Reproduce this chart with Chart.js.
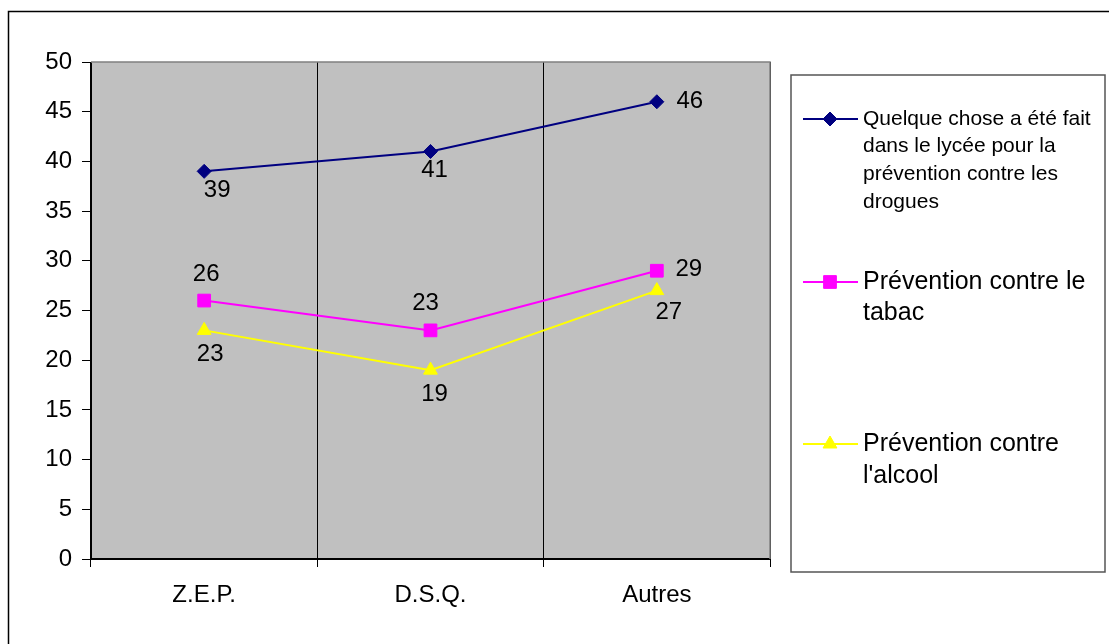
<!DOCTYPE html>
<html>
<head>
<meta charset="utf-8">
<script src="https://cdn.jsdelivr.net/npm/chart.js@4/dist/chart.umd.min.js"></script>
<style>
  html, body { margin: 0; padding: 0; background: #fff; }
  canvas { display: block; }
</style>
</head>
<body>
<canvas id="chart" width="1109" height="644"></canvas>
<script>
// ---- data ----
const categories = ['Z.E.P.', 'D.S.Q.', 'Autres'];
const preventionDrogues = [39, 41, 46];
const preventionTabac = [26, 23, 29];
const preventionAlcool = [23, 19, 27];
const yTickValues = [0, 5, 10, 15, 20, 25, 30, 35, 40, 45, 50];
const legendLines = [
  ['Quelque chose a été fait', 'dans le lycée pour la', 'prévention contre les', 'drogues'],
  ['Prévention contre le', 'tabac'],
  ['Prévention contre', "l'alcool"]
];

// ---- styles ----
const FONT = "'Liberation Sans', Arial, Helvetica, sans-serif";
const seriesStyle = [
  { color: '#000080', pointStyle: 'rectRot', radius: 7 },
  { color: '#FF00FF', pointStyle: 'rect', radius: 9 },
  { color: '#FFFF00', pointStyle: 'triangle', radius: 8 }
];
// value label offsets from each point (dx, dy in px)
const labelOffsets = [
  [[13, 19], [4, 19], [33, 0]],
  [[2, -26], [-5, -27], [32, -1]],
  [[6, 24], [4, 24], [12, 22]]
];
// legend layout
const legendBox = { x: 791, y: 75, w: 314, h: 497 };
const legendRows = [
  { y: 119, font: 21, lineH: 27.7 },
  { y: 282, font: 25, lineH: 31 },
  { y: 444, font: 25, lineH: 32 }
];

const seriesValues = [preventionDrogues, preventionTabac, preventionAlcool];

const datasets = seriesValues.map((vals, i) => ({
  label: legendLines[i].join(' '),
  data: vals,
  borderColor: seriesStyle[i].color,
  backgroundColor: seriesStyle[i].color,
  borderWidth: 2,
  pointStyle: seriesStyle[i].pointStyle,
  pointRadius: seriesStyle[i].radius,
  pointHoverRadius: seriesStyle[i].radius,
  pointBorderWidth: 1,
  pointBorderColor: seriesStyle[i].color,
  pointBackgroundColor: seriesStyle[i].color,
  tension: 0,
  fill: false
}));

const framePlugin = {
  id: 'frame',
  beforeDraw(chart) {
    const { ctx, chartArea: a } = chart;
    ctx.save();
    ctx.fillStyle = '#C0C0C0';
    ctx.fillRect(a.left, a.top, a.right - a.left, a.bottom - a.top);
    ctx.restore();
  },
  beforeDatasetsDraw(chart) {
    const { ctx, chartArea: a } = chart;
    ctx.save();
    ctx.strokeStyle = '#808080';
    ctx.lineWidth = 1.5;
    ctx.beginPath();
    ctx.moveTo(a.left, a.top);
    ctx.lineTo(a.right, a.top);
    ctx.lineTo(a.right, a.bottom);
    ctx.stroke();
    ctx.restore();
  },
  afterDraw(chart) {
    const { ctx } = chart;
    ctx.save();
    // outer frame
    ctx.strokeStyle = '#000';
    ctx.lineWidth = 1.5;
    ctx.strokeRect(8.5, 11.5, 1300, 800);
    ctx.restore();
  }
};

const valueLabelPlugin = {
  id: 'valueLabels',
  afterDatasetsDraw(chart) {
    const { ctx } = chart;
    ctx.save();
    ctx.font = '24px ' + FONT;
    ctx.fillStyle = '#000';
    ctx.textAlign = 'center';
    ctx.textBaseline = 'middle';
    chart.data.datasets.forEach((ds, di) => {
      const meta = chart.getDatasetMeta(di);
      meta.data.forEach((pt, j) => {
        const off = labelOffsets[di][j];
        ctx.fillText(String(ds.data[j]), pt.x + off[0], pt.y + off[1]);
      });
    });
    ctx.restore();
  }
};

const legendPlugin = {
  id: 'boxLegend',
  afterDraw(chart) {
    const { ctx } = chart;
    ctx.save();
    ctx.strokeStyle = '#555';
    ctx.lineWidth = 1.5;
    ctx.strokeRect(legendBox.x, legendBox.y, legendBox.w, legendBox.h);
    chart.data.datasets.forEach((ds, i) => {
      const row = legendRows[i];
      const st = seriesStyle[i];
      ctx.strokeStyle = st.color;
      ctx.lineWidth = 2;
      ctx.beginPath();
      ctx.moveTo(803, row.y);
      ctx.lineTo(858, row.y);
      ctx.stroke();
      ctx.fillStyle = st.color;
      ctx.lineWidth = 1;
      Chart.helpers.drawPoint(ctx, {
        pointStyle: st.pointStyle, radius: st.radius, rotation: 0, borderWidth: 1
      }, 830, row.y);
      ctx.fillStyle = '#000';
      ctx.font = row.font + 'px ' + FONT;
      ctx.textAlign = 'left';
      ctx.textBaseline = 'middle';
      legendLines[i].forEach((line, k) => {
        ctx.fillText(line, 863, row.y + k * row.lineH);
      });
    });
    ctx.restore();
  }
};

new Chart(document.getElementById('chart'), {
  type: 'line',
  data: { labels: categories, datasets },
  options: {
    responsive: false,
    animation: false,
    events: [],
    layout: { padding: { left: 0, top: 62, right: 339, bottom: 0 } },
    plugins: { legend: { display: false }, tooltip: { enabled: false } },
    scales: {
      x: {
        offset: true,
        grid: {
          offset: true,
          drawOnChartArea: true,
          color: '#000',
          lineWidth: 1,
          tickLength: 8,
          tickColor: '#000'
        },
        border: { color: '#000', width: 2 },
        ticks: { color: '#000', font: { family: FONT, size: 24 }, padding: 14, maxRotation: 0 },
        afterFit(scale) { scale.height = 85; }
      },
      y: {
        min: 0,
        max: 50,
        afterBuildTicks(scale) { scale.ticks = yTickValues.map(v => ({ value: v })); },
        grid: { drawOnChartArea: false, tickLength: 9, tickColor: '#000' },
        border: { color: '#000', width: 1 },
        ticks: { color: '#000', font: { family: FONT, size: 24 }, padding: 10 },
        afterFit(scale) { scale.width = 91; }
      }
    }
  },
  plugins: [framePlugin, valueLabelPlugin, legendPlugin]
});
</script>
</body>
</html>
